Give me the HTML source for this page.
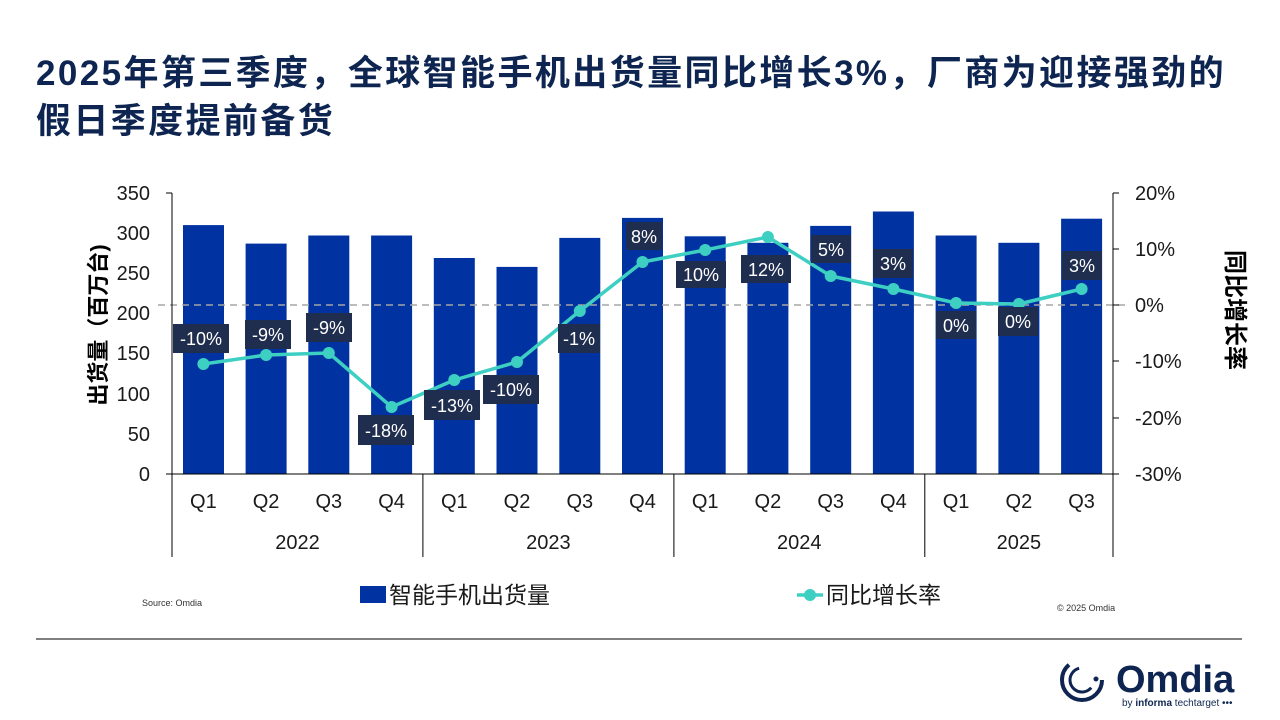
<!DOCTYPE html>
<html><head><meta charset="utf-8"><style>
html,body{margin:0;padding:0;background:#fff;}
body{width:1280px;height:720px;overflow:hidden;position:relative;font-family:"Liberation Sans","Noto Sans CJK SC",sans-serif;}
.title{position:absolute;left:36px;top:50px;font-size:35px;letter-spacing:2.4px;font-weight:bold;color:#0d2550;line-height:48px;font-family:"Liberation Sans","Noto Sans CJK SC",sans-serif;white-space:nowrap;}
</style></head><body>
<div class="title">2025年第三季度，全球智能手机出货量同比增长3%，厂商为迎接强劲的<br>假日季度提前备货</div>
<svg width="1280" height="720" style="position:absolute;left:0;top:0" font-family="Liberation Sans, Noto Sans CJK SC, sans-serif">
<g fill="#0033a1">
<rect x="183" y="225.1" width="41" height="248.9"/>
<rect x="245.6" y="243.6" width="41" height="230.4"/>
<rect x="308.3" y="235.5" width="41" height="238.5"/>
<rect x="371.1" y="235.5" width="41" height="238.5"/>
<rect x="433.8" y="258" width="41" height="216"/>
<rect x="496.5" y="266.9" width="41" height="207.1"/>
<rect x="559.3" y="237.9" width="41" height="236.1"/>
<rect x="622" y="217.9" width="41" height="256.1"/>
<rect x="684.7" y="236.3" width="41" height="237.7"/>
<rect x="747.4" y="242.8" width="41" height="231.2"/>
<rect x="810.2" y="225.9" width="41" height="248.1"/>
<rect x="872.9" y="211.5" width="41" height="262.5"/>
<rect x="935.6" y="235.5" width="41" height="238.5"/>
<rect x="998.4" y="242.8" width="41" height="231.2"/>
<rect x="1061.1" y="218.7" width="41" height="255.3"/>
</g>
<line x1="158" y1="305" x2="1125" y2="305" stroke="#a6a6a6" stroke-width="1.5" stroke-dasharray="7,5"/>
<g stroke="#000" stroke-width="1">
<line x1="172" y1="193" x2="172" y2="557"/>
<line x1="166" y1="474" x2="1113" y2="474"/>
<line x1="1113" y1="193" x2="1113" y2="557"/>
<line x1="422.9" y1="474" x2="422.9" y2="557"/>
<line x1="673.9" y1="474" x2="673.9" y2="557"/>
<line x1="924.8" y1="474" x2="924.8" y2="557"/>
<line x1="166" y1="193" x2="172" y2="193"/>
<line x1="1113" y1="193" x2="1119" y2="193"/>
<line x1="1113" y1="249" x2="1119" y2="249"/>
<line x1="1113" y1="305" x2="1119" y2="305"/>
<line x1="1113" y1="361" x2="1119" y2="361"/>
<line x1="1113" y1="418" x2="1119" y2="418"/>
<line x1="1113" y1="474" x2="1119" y2="474"/>
</g>
<g font-size="20" fill="#1a1a1a" text-anchor="end">
<text x="150" y="200">350</text><text x="150" y="240">300</text><text x="150" y="280">250</text><text x="150" y="320">200</text><text x="150" y="360">150</text><text x="150" y="401">100</text><text x="150" y="441">50</text><text x="150" y="481">0</text>
</g>
<g font-size="20" fill="#1a1a1a">
<text x="1135" y="200">20%</text><text x="1135" y="256">10%</text><text x="1135" y="312">0%</text><text x="1135" y="368">-10%</text><text x="1135" y="425">-20%</text><text x="1135" y="481">-30%</text>
</g>
<g font-size="20" fill="#1a1a1a" text-anchor="middle">
<text x="203.4" y="508">Q1</text><text x="266.1" y="508">Q2</text><text x="328.8" y="508">Q3</text><text x="391.6" y="508">Q4</text>
<text x="454.3" y="508">Q1</text><text x="517" y="508">Q2</text><text x="579.8" y="508">Q3</text><text x="642.5" y="508">Q4</text>
<text x="705.2" y="508">Q1</text><text x="767.9" y="508">Q2</text><text x="830.7" y="508">Q3</text><text x="893.4" y="508">Q4</text>
<text x="956.1" y="508">Q1</text><text x="1018.9" y="508">Q2</text><text x="1081.6" y="508">Q3</text>
<text x="297.5" y="549">2022</text><text x="548.4" y="549">2023</text><text x="799.3" y="549">2024</text><text x="1018.9" y="549">2025</text>
</g>
<text transform="translate(106,325) rotate(-90)" font-size="22" font-weight="bold" fill="#000" text-anchor="middle">出货量（百万台)</text>
<text transform="translate(1227,310) rotate(90)" font-size="24" font-weight="bold" fill="#000" text-anchor="middle">同比增长率</text>
<polyline fill="none" stroke="#3ecfc3" stroke-width="3.5" stroke-linejoin="round" points="203.4,364 266.1,355 328.8,353 391.6,407 454.3,380 517,362 579.8,311 642.5,262 705.2,250 767.9,237 830.7,276 893.4,289 956.1,303 1018.9,304 1081.6,289"/>
<g fill="#3ecfc3">
<circle cx="203.4" cy="364" r="6"/><circle cx="266.1" cy="355" r="6"/><circle cx="328.8" cy="353" r="6"/><circle cx="391.6" cy="407" r="6"/><circle cx="454.3" cy="380" r="6"/><circle cx="517" cy="362" r="6"/><circle cx="579.8" cy="311" r="6"/><circle cx="642.5" cy="262" r="6"/><circle cx="705.2" cy="250" r="6"/><circle cx="767.9" cy="237" r="6"/><circle cx="830.7" cy="276" r="6"/><circle cx="893.4" cy="289" r="6"/><circle cx="956.1" cy="303" r="6"/><circle cx="1018.9" cy="304" r="6"/><circle cx="1081.6" cy="289" r="6"/>
</g>
<g fill="#1f2d4e">
<rect x="173" y="324" width="56" height="29"/>
<rect x="245" y="320" width="46" height="29"/>
<rect x="306" y="313" width="46" height="29"/>
<rect x="358" y="415" width="56" height="30"/>
<rect x="424" y="390" width="56" height="30"/>
<rect x="483" y="375" width="56" height="29"/>
<rect x="558" y="324" width="42" height="29"/>
<rect x="626" y="222" width="36" height="28"/>
<rect x="676" y="261" width="50" height="27"/>
<rect x="741" y="255" width="50" height="28"/>
<rect x="811" y="235" width="40" height="28"/>
<rect x="873" y="249" width="40" height="29"/>
<rect x="936" y="311" width="40" height="28"/>
<rect x="998" y="307" width="40" height="29"/>
<rect x="1062" y="251" width="40" height="29"/>
</g>
<g font-size="18" fill="#fff" text-anchor="middle">
<text x="201" y="345">-10%</text><text x="268" y="341">-9%</text><text x="329" y="334">-9%</text><text x="386" y="437">-18%</text><text x="452" y="412">-13%</text><text x="511" y="396">-10%</text><text x="579" y="345">-1%</text><text x="644" y="243">8%</text><text x="701" y="281">10%</text><text x="766" y="276">12%</text><text x="831" y="256">5%</text><text x="893" y="270">3%</text><text x="956" y="332">0%</text><text x="1018" y="328">0%</text><text x="1082" y="272">3%</text>
</g>
<rect x="360" y="586" width="26" height="17" fill="#0033a1"/>
<text x="389" y="603" font-size="23" fill="#1a1a1a">智能手机出货量</text>
<line x1="797" y1="595" x2="823" y2="595" stroke="#3ecfc3" stroke-width="3.5"/>
<circle cx="810" cy="595" r="6" fill="#3ecfc3"/>
<text x="826" y="603" font-size="23" fill="#1a1a1a">同比增长率</text>
<text x="142" y="606" font-size="9" fill="#333">Source: Omdia</text>
<text x="1057" y="611" font-size="9" fill="#333">© 2025 Omdia</text>
<line x1="36" y1="639" x2="1242" y2="639" stroke="#333" stroke-width="1.2"/>
<g transform="translate(1082,680)">
<circle r="20" fill="none" stroke="#0d2550" stroke-width="4" stroke-dasharray="80,46"/>
<circle r="12" fill="none" stroke="#0d2550" stroke-width="3" stroke-dasharray="45,30" transform="rotate(40)"/>
<circle cx="14" cy="-1" r="2.5" fill="#0d2550"/>
</g>
<text x="1116" y="692" font-size="38" font-weight="bold" fill="#0d2550">Omdia</text>
<text x="1122" y="706" font-size="10" fill="#0d2550">by <tspan font-weight="bold">informa</tspan> techtarget •••</text>
</svg>
</body></html>
